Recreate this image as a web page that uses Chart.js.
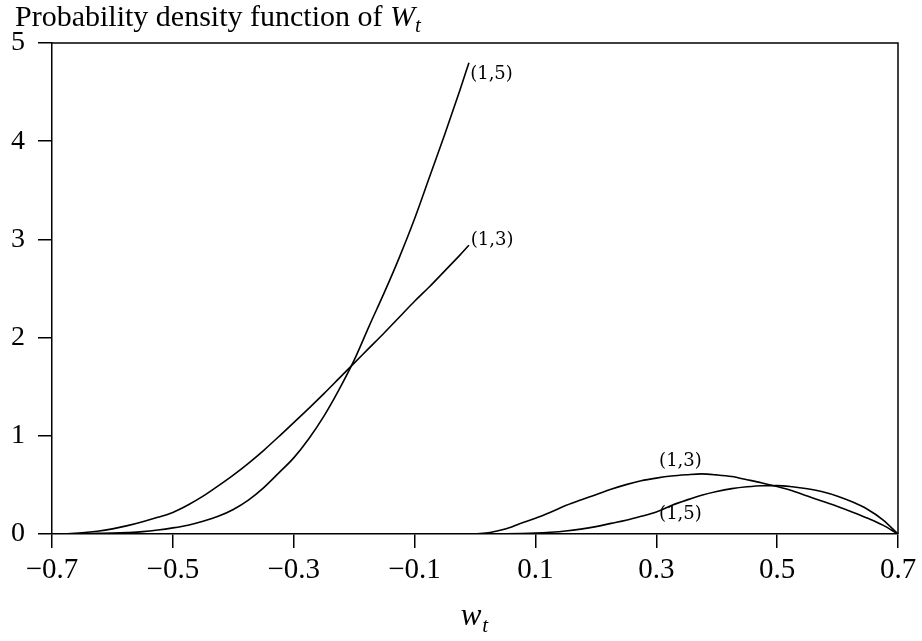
<!DOCTYPE html>
<html>
<head>
<meta charset="utf-8">
<script src="https://cdn.jsdelivr.net/npm/chart.js@4/dist/chart.umd.min.js"></script>
<style>
  html, body { margin: 0; padding: 0; background: #fff; }
  #wrap { width: 922px; height: 641px; position: relative; }
</style>
</head>
<body>
<div id="wrap"><canvas id="pdfChart"></canvas></div>
<script>
// ================= DATA =================
// left branch, w < 0
const leftX = [-0.7, -0.675, -0.65, -0.625, -0.6, -0.575, -0.55, -0.525, -0.5, -0.475, -0.45, -0.425, -0.4, -0.375,
  -0.35, -0.325, -0.3, -0.275, -0.25, -0.225, -0.2, -0.175, -0.15, -0.125, -0.1, -0.075, -0.05, -0.025, -0.01];
const left13 = [0, 0.003, 0.012, 0.028, 0.052, 0.085, 0.125, 0.17, 0.22, 0.295, 0.385, 0.49, 0.6, 0.72,
  0.85, 0.99, 1.135, 1.28, 1.43, 1.585, 1.74, 1.895, 2.05, 2.21, 2.37, 2.52, 2.68, 2.84, 2.94];
const left15 = [0, 0.001, 0.003, 0.006, 0.009, 0.015, 0.024, 0.04, 0.062, 0.09, 0.13, 0.18, 0.25, 0.345,
  0.47, 0.62, 0.775, 0.97, 1.2, 1.47, 1.77, 2.12, 2.46, 2.82, 3.21, 3.64, 4.07, 4.52, 4.8];

// right branch, w > 0
const rightX = [0, 0.025, 0.05, 0.075, 0.1, 0.125, 0.15, 0.175, 0.2, 0.225, 0.25, 0.275, 0.3, 0.325,
  0.35, 0.375, 0.4, 0.425, 0.45, 0.475, 0.5, 0.525, 0.55, 0.575, 0.6, 0.625, 0.65, 0.675, 0.7];
const right13 = [0, 0.016, 0.05, 0.107, 0.16, 0.222, 0.29, 0.347, 0.4, 0.455, 0.503, 0.542, 0.569, 0.59,
  0.603, 0.612, 0.602, 0.585, 0.553, 0.52, 0.483, 0.44, 0.387, 0.333, 0.28, 0.222, 0.16, 0.09, 0];
const right15 = [0, 0, 0.001, 0.004, 0.009, 0.018, 0.031, 0.05, 0.075, 0.108, 0.14, 0.18, 0.225, 0.29,
  0.345, 0.395, 0.433, 0.462, 0.481, 0.492, 0.493, 0.481, 0.46, 0.43, 0.385, 0.325, 0.25, 0.145, 0];

const xTickValues = [-0.7, -0.5, -0.3, -0.1, 0.1, 0.3, 0.5, 0.7];
const yTickValues = [0, 1, 2, 3, 4, 5];

const curveLabels = ["(1,5)", "(1,3)", "(1,3)", "(1,5)"];
const labelX = [-0.008, -0.007, 0.34, 0.34];
const labelY = [4.68, 2.99, 0.74, 0.2];

const SERIF = "'Liberation Serif', 'DejaVu Serif', serif";

function toPoints(xs, ys) {
  return xs.map((x, i) => ({ x: x, y: ys[i] }));
}

function lineSet(label, xs, ys) {
  return {
    label: label,
    data: toPoints(xs, ys),
    borderColor: "#000",
    borderWidth: 1.6,
    pointRadius: 0,
    fill: false,
    cubicInterpolationMode: "monotone"
  };
}

// ================= PLUGINS =================
const frameAndText = {
  id: "frameAndText",
  afterDraw(chart) {
    const ctx = chart.ctx;
    const area = chart.chartArea;
    const xs = chart.scales.x;
    const ys = chart.scales.y;

    ctx.save();
    // top + right border of the box
    ctx.strokeStyle = "#000";
    ctx.lineWidth = 1.5;
    ctx.beginPath();
    ctx.moveTo(area.left, area.top);
    ctx.lineTo(area.right, area.top);
    ctx.lineTo(area.right, area.bottom);
    ctx.stroke();

    // title
    ctx.fillStyle = "#000";
    ctx.textBaseline = "alphabetic";
    ctx.textAlign = "left";
    ctx.font = "30px " + SERIF;
    const head = "Probability density function of ";
    ctx.fillText(head, 15, 26);
    let tx = 15 + ctx.measureText(head).width;
    ctx.font = "italic 30px " + SERIF;
    ctx.fillText("W", tx, 26);
    tx += ctx.measureText("W").width;
    ctx.font = "italic 21px " + SERIF;
    ctx.fillText("t", tx, 32);

    // x axis title
    ctx.font = "italic 31px " + SERIF;
    const ww = ctx.measureText("w").width;
    const cx = (area.left + area.right) / 2;
    ctx.fillText("w", cx - ww / 2 - 4, 625);
    ctx.font = "italic 21px " + SERIF;
    ctx.fillText("t", cx + ww / 2 - 3, 632);

    // curve labels
    ctx.font = "18px 'DejaVu Serif', serif";
    ctx.textBaseline = "middle";
    curveLabels.forEach((txt, i) => {
      ctx.textAlign = i < 2 ? "left" : "center";
      ctx.fillText(txt, xs.getPixelForValue(labelX[i]), ys.getPixelForValue(labelY[i]));
    });
    ctx.restore();
  }
};

// ================= CHART =================
const ctx = document.getElementById("pdfChart").getContext("2d");

new Chart(ctx, {
  type: "line",
  data: {
    datasets: [
      lineSet("(1,3) left", leftX, left13),
      lineSet("(1,5) left", leftX, left15),
      lineSet("(1,3) right", rightX, right13),
      lineSet("(1,5) right", rightX, right15)
    ]
  },
  options: {
    responsive: true,
    maintainAspectRatio: false,
    animation: false,
    layout: { padding: { top: 43, right: 24, left: 0, bottom: 0 } },
    plugins: {
      legend: { display: false },
      title: { display: false },
      tooltip: { enabled: false }
    },
    scales: {
      x: {
        type: "linear",
        min: -0.7,
        max: 0.7,
        afterBuildTicks: scale => {
          scale.ticks = xTickValues.map(v => ({ value: v }));
        },
        afterFit: scale => { scale.height = 107; },
        ticks: {
          color: "#000",
          font: { family: SERIF, size: 29 },
          padding: 5,
          maxRotation: 0,
          autoSkip: false,
          callback: v => v.toFixed(1).replace("-", "\u2212")
        },
        grid: {
          drawOnChartArea: false,
          drawTicks: true,
          tickLength: 14,
          color: "#000",
          lineWidth: 1.5
        },
        border: { display: true, color: "#000", width: 1.5 }
      },
      y: {
        type: "linear",
        min: 0,
        max: 5,
        afterBuildTicks: scale => {
          scale.ticks = yTickValues.map(v => ({ value: v }));
        },
        afterFit: scale => { scale.width = 52; },
        ticks: {
          color: "#000",
          font: { family: SERIF, size: 28 },
          padding: 13
        },
        grid: {
          drawOnChartArea: false,
          drawTicks: true,
          tickLength: 14,
          color: "#000",
          lineWidth: 1.5
        },
        border: { display: true, color: "#000", width: 1.5 }
      }
    }
  },
  plugins: [frameAndText]
});
</script>
</body>
</html>
